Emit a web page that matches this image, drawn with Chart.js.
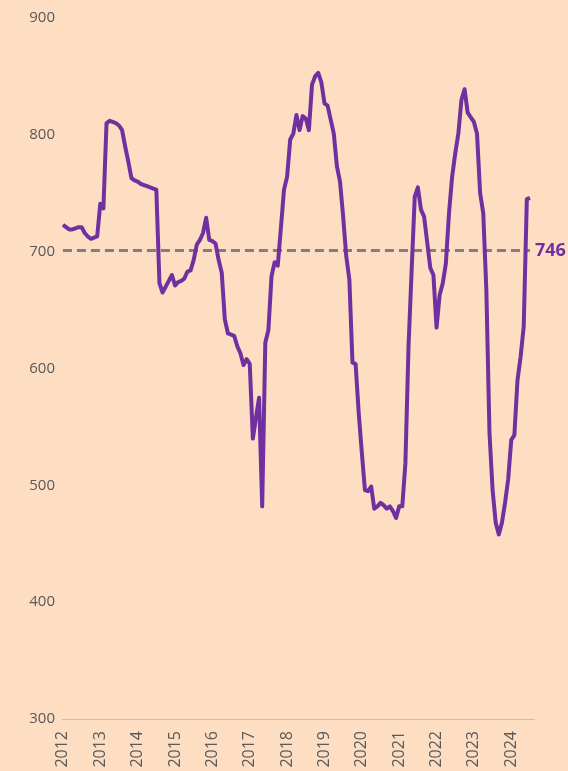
<!DOCTYPE html>
<html>
<head>
<meta charset="utf-8">
<title>Monthly index 2012–2024</title>
<script src="https://cdn.jsdelivr.net/npm/chart.js@4.4.1/dist/chart.umd.min.js"></script>
<style>
  html, body { margin: 0; padding: 0; background: #FDDEC2; overflow: hidden; }
  canvas { display: block; }
</style>
</head>
<body>
<canvas id="chart" width="568" height="771"></canvas>
<script>
// Year labels, one tick per January
const years = ['2012', '2013', '2014', '2015', '2016', '2017', '2018',
               '2019', '2020', '2021', '2022', '2023', '2024'];

// Monthly readings, Jan 2012 – Jul 2024
const monthly = [
  723, 721, 719, 719, 720, 721, 721, 716, 713, 711, 712, 713,   // 2012
  741, 737, 810, 812, 811, 810, 808, 804, 790, 777, 763, 761,   // 2013
  760, 758, 757, 756, 755, 754, 753, 673, 665, 670, 675, 680,   // 2014
  671, 674, 675, 677, 683, 684, 693, 706, 710, 716, 729, 710,   // 2015
  709, 707, 693, 682, 642, 630, 629, 628, 619, 613, 603, 608,   // 2016
  604, 540, 558, 575, 482, 622, 633, 679, 691, 688, 720, 753,   // 2017
  764, 796, 801, 817, 804, 816, 814, 804, 843, 850, 853, 845,   // 2018
  827, 825, 813, 801, 773, 760, 730, 696, 676, 605, 604, 562,   // 2019
  528, 496, 495, 499, 480, 482, 485, 483, 480, 482, 478, 472,   // 2020
  482, 482, 519, 619, 684, 747, 755, 736, 730, 708, 686, 680,   // 2021
  635, 663, 673, 690, 733, 764, 784, 801, 830, 839, 819, 815,   // 2022
  811, 801, 750, 733, 667, 545, 496, 468, 458, 468, 485, 505,   // 2023
  539, 543, 590, 610, 636, 745, 746                              // 2024
];

// Long-run reference level (dashed line)
const referenceLevel = [701];

const BG = '#FDDEC2';
const PURPLE = '#7030A0';
const GREY_TEXT = '#595959';

const background = {
  id: 'background',
  beforeDraw(chart) {
    const c = chart.ctx;
    c.save();
    c.fillStyle = BG;
    c.fillRect(0, 0, chart.width, chart.height);
    c.restore();
  }
};

// Latest value printed at the end of the reference line
const latestLabel = {
  id: 'latestLabel',
  afterDatasetsDraw(chart) {
    const c = chart.ctx;
    const xs = chart.scales.x, ys = chart.scales.y;
    const last = monthly.length - 1;
    c.save();
    c.font = 'bold 18px "Open Sans"';
    c.fillStyle = PURPLE;
    c.textAlign = 'left';
    c.textBaseline = 'middle';
    c.fillText(String(monthly[last]), xs.getPixelForValue(last) + 5, ys.getPixelForValue(referenceLevel[0]));
    c.restore();
  }
};

new Chart(document.getElementById('chart'), {
  type: 'line',
  data: {
    datasets: [
      {
        data: monthly.map((v, i) => ({ x: i, y: v })),
        borderColor: PURPLE,
        borderWidth: 4,
        borderJoinStyle: 'round',
        pointRadius: 0,
        tension: 0
      },
      {
        data: [{ x: 0, y: referenceLevel[0] }, { x: monthly.length - 1, y: referenceLevel[0] }],
        borderColor: '#7F7F7F',
        borderWidth: 3,
        borderDash: [9, 5],
        pointRadius: 0,
        tension: 0
      }
    ]
  },
  options: {
    responsive: false,
    animation: false,
    devicePixelRatio: 1,
    layout: { padding: { top: 18, right: 34, left: 0, bottom: 0 } },
    plugins: { legend: { display: false }, tooltip: { enabled: false } },
    scales: {
      x: {
        type: 'linear',
        min: -0.3,
        max: 151.3,
        grid: { display: false, drawTicks: false },
        border: { display: true, color: '#BFBFBF', width: 1 },
        afterBuildTicks: s => { s.ticks = years.map((y, i) => ({ value: i * 12 })); },
        afterFit: s => { s.height = 52; },
        ticks: {
          autoSkip: false,
          maxRotation: 90,
          minRotation: 90,
          padding: 12,
          color: GREY_TEXT,
          font: { family: 'Open Sans', size: 16 },
          callback: v => years[Math.round(v / 12)]
        }
      },
      y: {
        min: 300,
        max: 900,
        grid: { display: false, drawTicks: false },
        border: { display: false },
        afterFit: s => { s.width = 62; },
        ticks: {
          stepSize: 100,
          padding: 7,
          color: GREY_TEXT,
          font: { family: 'Open Sans', size: 15 }
        }
      }
    }
  },
  plugins: [background, latestLabel]
});
</script>
</body>
</html>
